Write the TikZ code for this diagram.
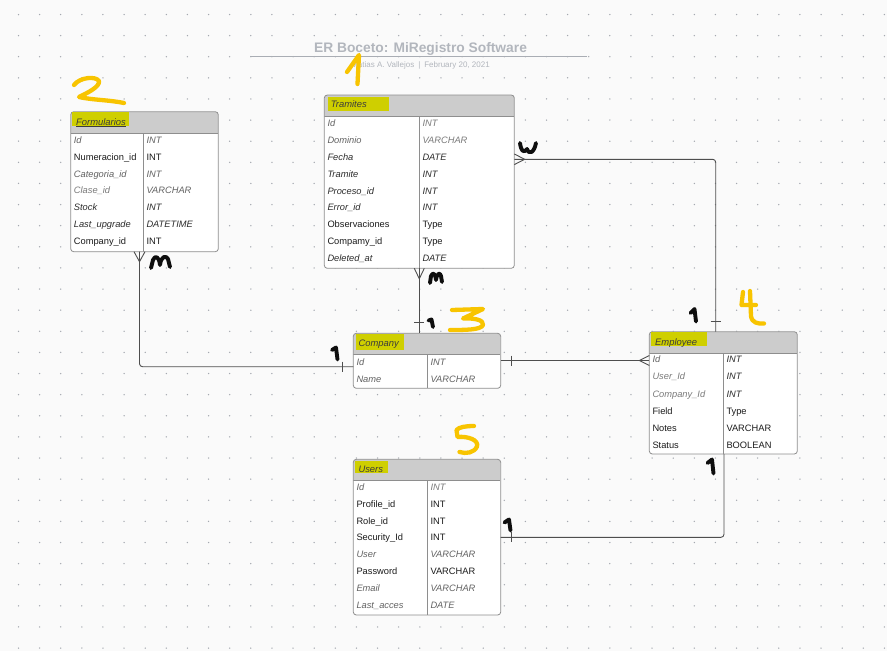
\documentclass[tikz,border=0pt]{standalone}
\usepackage{fontspec}
\setmainfont{Liberation Sans}
\usetikzlibrary{calc}

\definecolor{bgc}{HTML}{FAFAFA}
\definecolor{dotc}{HTML}{A4A8B0}
\definecolor{boxline}{HTML}{8E8E8E}
\definecolor{headfill}{HTML}{CCCCCC}
\definecolor{hilite}{HTML}{CFCF00}
\definecolor{connc}{HTML}{4E4E4E}
\definecolor{titlec}{HTML}{B2B6BD}
\definecolor{rulec}{HTML}{A9ADB4}
\definecolor{inkc}{HTML}{0E0E0E}
\definecolor{markerc}{HTML}{F8C400}
\definecolor{txtreg}{HTML}{1C1C1C}
\definecolor{txtdark}{HTML}{2C2C2C}
\definecolor{txtgray}{HTML}{626262}
\definecolor{txtlight}{HTML}{7A7A7A}
\definecolor{headtxt}{HTML}{3C3C3C}

% one table row: key cell and type cell
% #1 table, #2 index, #3 baseline below top, #4 divider offset,
% #5 key style, #6 key, #7 type style, #8 type
\newcommand\erow[8]{%
  \node[#5, anchor=base west] (#1-k#2) at ($(#1.north west)+(3,#3)$) {#6};
  \node[#7, anchor=base west] (#1-t#2) at ($(#1.north west)+(#4,#3)+(3,0)$) {#8};
}

\tikzset{
  entity/.style n args={3}{draw=boxline, line width=0.8pt, fill=white,
    rounded corners=3pt, rectangle, inner sep=0pt, outer sep=0pt,
    anchor=north west, minimum width=#1, minimum height=#2,
    path picture={
      \fill[headfill, sharp corners] (path picture bounding box.north west)
        rectangle ([yshift=-21.3pt]path picture bounding box.north east);
      \draw[boxline, line width=0.8pt, sharp corners]
        ([yshift=-21.3pt]path picture bounding box.north west)
        -- ([yshift=-21.3pt]path picture bounding box.north east);
      \draw[boxline, line width=0.8pt, sharp corners]
        ([xshift=#3, yshift=-21.3pt]path picture bounding box.north west)
        -- ([xshift=#3]path picture bounding box.south west);
    }},
  cell/.style={inner sep=0pt, font=\fontsize{9.3}{11}\selectfont},
  kreg/.style={cell, text=txtreg},
  kit/.style={cell, text=txtdark, font=\fontsize{9.3}{11}\selectfont\itshape},
  kgr/.style={cell, text=txtgray, font=\fontsize{9.3}{11}\selectfont\itshape},
  klt/.style={cell, text=txtlight, font=\fontsize{9.3}{11}\selectfont\itshape},
  htitle/.style={inner sep=0pt, anchor=base west, text=headtxt,
    font=\fontsize{9.4}{11}\selectfont\itshape},
  conn/.style={draw=connc, line width=0.9pt},
  ink/.style={draw=inkc, line width=3.9pt, line cap=round, line join=round},
  marker/.style={draw=markerc, line width=4.3pt, line cap=round, line join=round},
}

\begin{document}
\begin{tikzpicture}[x=1pt, y=-1pt]
\useasboundingbox (0,0) rectangle (887,651);
\fill[bgc] (0,0) rectangle (887,651);

% dotted grid
\foreach \i in {0,...,41}
  \foreach \j in {0,...,30}
    \fill[dotc] (18.5+21.12*\i, 14.5+21.12*\j) circle (0.75);

% heading
\node[inner sep=0pt, anchor=base, text=titlec,
      font=\fontsize{13.8}{16}\selectfont\bfseries] (ttl) at (420.5,52.6)
      {ER Boceto: MiRegistro Software};
\draw[rulec, line width=1.2pt] (250,56.7) -- (586.7,56.7);
\node[inner sep=0pt, anchor=base, text=titlec,
      font=\fontsize{8}{10}\selectfont] (sub) at (420.5,67.3)
      {Matias A. Vallejos\hspace{4pt}|\hspace{4pt}February 20, 2021};

% table frames
\node[entity={147.6pt}{140pt}{72.6pt}]   (form)  at (70.7,111.7) {};
\node[entity={190pt}{173.3pt}{95pt}]     (tram)  at (324.3,95) {};
\node[entity={147.4pt}{55pt}{74pt}]      (comp)  at (353.3,333.3) {};
\node[entity={148pt}{122.3pt}{74pt}]     (emp)   at (649.3,331.7) {};
\node[entity={147.4pt}{155.7pt}{74pt}]   (users) at (353.3,459.3) {};

% attachment points of the relationships
\coordinate (fb) at ([xshift=68.8pt]form.south west);
\coordinate (cl) at ([yshift=-33.4pt]comp.north west);
\coordinate (tb) at ([xshift=95pt]tram.south west);
\coordinate (ct) at ([xshift=66pt]comp.north west);
\coordinate (tr) at ([yshift=-64.3pt]tram.north east);
\coordinate (et) at ([xshift=66.4pt]emp.north west);
\coordinate (cr) at ([yshift=-27.2pt]comp.north east);
\coordinate (el) at (cr -| emp.west);
\coordinate (ur) at ([yshift=-78pt]users.north east);
\coordinate (eb) at ([xshift=74.7pt]emp.south west);

% Formularios (many) -- Company (one)
\draw[conn, rounded corners=3pt] (fb) |- (cl);
\draw[conn] ($(fb)+(-5.5,0)$) -- ($(fb)+(0,10)$) -- ($(fb)+(5.5,0)$);
\draw[conn] ($(cl)+(-11,-5)$) -- ($(cl)+(-11,5)$);

% Tramites (many) -- Company (one)
\draw[conn] (tb) -- (ct);
\draw[conn] ($(tb)+(-5,0)$) -- ($(tb)+(0,10.5)$) -- ($(tb)+(5,0)$);
\draw[conn] ($(ct)+(-5,-10.6)$) -- ($(ct)+(5,-10.6)$);

% Tramites (many) -- Employee (one)
\draw[conn, rounded corners=3pt] (tr) -| (et);
\draw[conn] ($(tr)+(0,-5.3)$) -- ($(tr)+(10.5,0)$) -- ($(tr)+(0,5.3)$);
\draw[conn] ($(et)+(-5,-10.7)$) -- ($(et)+(5,-10.7)$);

% Company (one) -- Employee (many)
\draw[conn] (cr) -- (el);
\draw[conn] ($(cr)+(11,-5)$) -- ($(cr)+(11,5)$);
\draw[conn] ($(el)+(0,-5)$) -- ($(el)+(-10,0)$) -- ($(el)+(0,5)$);

% Users (one) -- Employee
\draw[conn, rounded corners=3pt] (ur) -| (eb);
\draw[conn] ($(ur)+(11,-5)$) -- ($(ur)+(11,5)$);

% highlighted table names
\fill[hilite] ($(form.north west)+(1,0.5)$)  rectangle +(57.3,14);
\fill[hilite] ($(tram.north west)+(4,1.7)$)  rectangle +(60.7,14.3);
\fill[hilite] ($(comp.north west)+(2.7,1)$)  rectangle +(48,15.7);
\fill[hilite] ($(emp.north west)+(1.4,0.6)$) rectangle +(56,13.4);
\fill[hilite] ($(users.north west)+(1.7,1.4)$) rectangle +(33.3,12.6);

\node[htitle] (form-h)  at ($(form.north west)+(5.3,13.4)$)  {\underline{Formularios}};
\node[htitle] (tram-h)  at ($(tram.north west)+(6.4,12.8)$)  {Tramites};
\node[htitle] (comp-h)  at ($(comp.north west)+(5,13.4)$)    {Company};
\node[htitle] (emp-h)   at ($(emp.north west)+(5.7,13.3)$)   {Employee};
\node[htitle] (users-h) at ($(users.north west)+(5,12.9)$)   {Users};

% Formularios
\erow{form}{1}{31.8}{72.6}{kgr}{Id}{kgr}{INT}
\erow{form}{2}{48.6}{72.6}{kreg}{Numeracion\_id}{kreg}{INT}
\erow{form}{3}{65.4}{72.6}{kgr}{Categoria\_id}{kgr}{INT}
\erow{form}{4}{82.2}{72.6}{klt}{Clase\_id}{kgr}{VARCHAR}
\erow{form}{5}{99.0}{72.6}{kit}{Stock}{kit}{INT}
\erow{form}{6}{115.8}{72.6}{kit}{Last\_upgrade}{kit}{DATETIME}
\erow{form}{7}{132.6}{72.6}{kreg}{Company\_id}{kreg}{INT}

% Tramites
\erow{tram}{1}{31.2}{95}{kgr}{Id}{klt}{INT}
\erow{tram}{2}{48.15}{95}{kgr}{Dominio}{klt}{VARCHAR}
\erow{tram}{3}{65.1}{95}{kit}{Fecha}{kit}{DATE}
\erow{tram}{4}{82.05}{95}{kit}{Tramite}{kit}{INT}
\erow{tram}{5}{99.0}{95}{kit}{Proceso\_id}{kit}{INT}
\erow{tram}{6}{115.95}{95}{kit}{Error\_id}{kit}{INT}
\erow{tram}{7}{132.9}{95}{kreg}{Observaciones}{kreg}{Type}
\erow{tram}{8}{149.85}{95}{kreg}{Compamy\_id}{kreg}{Type}
\erow{tram}{9}{166.8}{95}{kit}{Deleted\_at}{kit}{DATE}

% Company
\erow{comp}{1}{31.9}{74}{kgr}{Id}{kgr}{INT}
\erow{comp}{2}{48.9}{74}{kgr}{Name}{kgr}{VARCHAR}

% Employee
\erow{emp}{1}{31.1}{74}{kgr}{Id}{kit}{INT}
\erow{emp}{2}{48.2}{74}{klt}{User\_Id}{kit}{INT}
\erow{emp}{3}{65.3}{74}{klt}{Company\_Id}{kit}{INT}
\erow{emp}{4}{82.3}{74}{kreg}{Field}{kreg}{Type}
\erow{emp}{5}{99.4}{74}{kreg}{Notes}{kreg}{VARCHAR}
\erow{emp}{6}{116.5}{74}{kreg}{Status}{kreg}{BOOLEAN}

% Users
\erow{users}{1}{30.9}{74}{kgr}{Id}{klt}{INT}
\erow{users}{2}{47.8}{74}{kreg}{Profile\_id}{kreg}{INT}
\erow{users}{3}{64.7}{74}{kreg}{Role\_id}{kreg}{INT}
\erow{users}{4}{81.6}{74}{kreg}{Security\_Id}{kreg}{INT}
\erow{users}{5}{98.5}{74}{kgr}{User}{kgr}{VARCHAR}
\erow{users}{6}{115.4}{74}{kreg}{Password}{kreg}{VARCHAR}
\erow{users}{7}{132.3}{74}{kgr}{Email}{kgr}{VARCHAR}
\erow{users}{8}{149.2}{74}{kgr}{Last\_acces}{kgr}{DATE}

% handwritten cardinalities (black ink)
\draw[ink] (151,268) -- (153,260) .. controls (155,255) and (159,256) .. (160,265)
           .. controls (161,256) and (166,255) .. (168,259) -- (170,267);
\draw[ink] (430,283) -- (431,276) .. controls (433,272) and (435,273) .. (436,280)
           .. controls (437,273) and (440,272) .. (441,276) -- (442,282);
\draw[ink] (520,143) .. controls (521,150) and (523,154) .. (527,149)
           .. controls (529,155) and (534,153) .. (536,143);
\draw[ink] (332,350) -- (336,347.5) -- (337.5,359.5);
\draw[ink] (428.5,320.5) -- (431.5,319.5) -- (433,327);
\draw[ink] (690.5,313) -- (694.5,309) -- (696,321.5);
\draw[ink] (707.5,463) -- (712,459.5) -- (713.5,473.5);
\draw[ink] (504.5,522.5) -- (509,519.5) -- (510.5,530.5);

% handwritten table numbers (marker)
\draw[marker] (74,85) .. controls (80,77) and (96,76) .. (99,81)
              .. controls (100,87) and (87,93) .. (79,97)
              .. controls (92,100) and (110,100) .. (124,103);
\draw[marker] (347,72) -- (359,55) -- (357.5,84);
\draw[marker] (452,310) -- (483,309) -- (463,318.5)
              .. controls (475,318) and (484,320) .. (483,325)
              .. controls (481,330) and (465,330) .. (450,330);
\draw[marker] (743,292) -- (741.5,305) -- (756,305);
\draw[marker] (750,291) -- (751,316) .. controls (752,323) and (758,324) .. (764,323.5);
\draw[marker] (474,426) .. controls (466,426) and (459,427) .. (456.5,430) -- (457.5,437)
              .. controls (468,436) and (479,440) .. (477,446.5)
              .. controls (474,453) and (466,454) .. (459.5,452);
\end{tikzpicture}
\end{document}
